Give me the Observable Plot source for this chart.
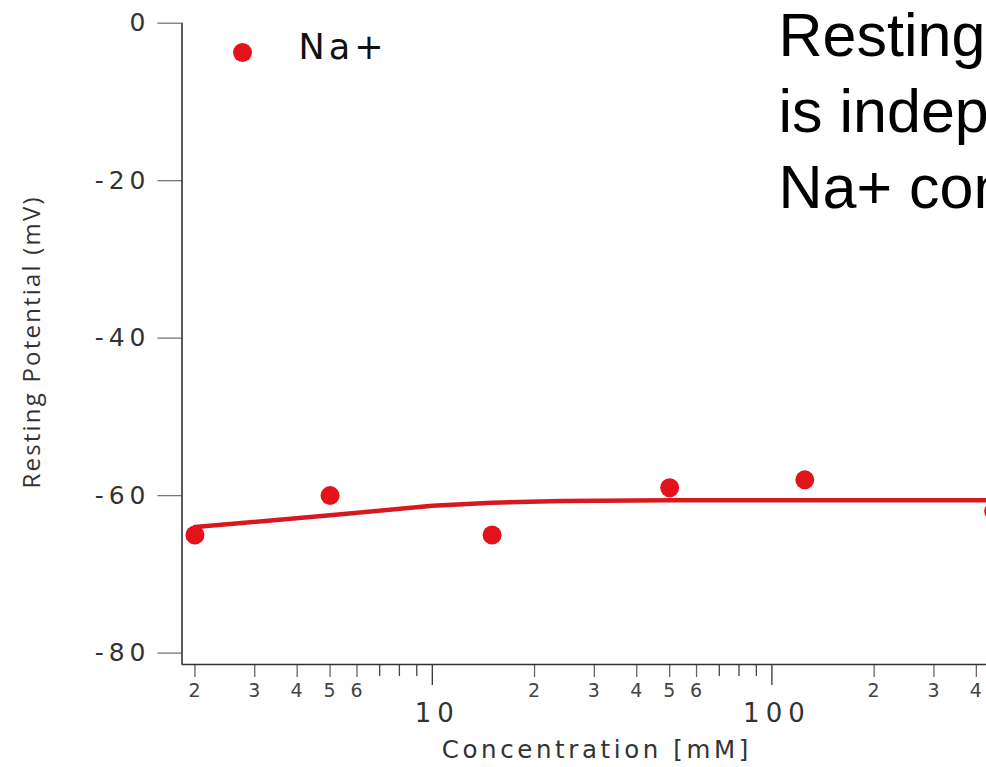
<!DOCTYPE html>
<html>
<head>
<meta charset="utf-8">
<script src="https://cdn.jsdelivr.net/npm/d3@7"></script>
<script src="https://cdn.jsdelivr.net/npm/@observablehq/plot@0.6"></script>
<style>
  html, body { margin: 0; padding: 0; background: #fff; }
  #wrap { width: 986px; height: 767px; overflow: hidden; position: relative; background: #fff; }
  #wrap svg { max-width: none !important; display: block; }
</style>
</head>
<body>
<div id="wrap"></div>
<script>
// Measured data (Na+ concentration in mM vs resting potential in mV)
const concentration = [2, 5, 15, 50, 125, 450];
const restingPotential = [-65, -60, -65, -59, -58, -62];

// Fitted curve
const fitConcentration = [2, 5, 10, 15, 24, 50, 125, 1000];
const fitPotential = [-64, -62.5, -61.3, -60.9, -60.7, -60.6, -60.6, -60.6];

// Axis ticks
const yTicks = [0, -20, -40, -60, -80];
const xMajorTicks = [10, 100, 1000];
const xLabeledMinorTicks = [2, 3, 4, 5, 6, 20, 30, 40, 50, 60, 200, 300, 400, 500, 600];
const xUnlabeledMinorTicks = [7, 8, 9, 70, 80, 90, 700, 800, 900];

// Texts
const seriesName = ["Na+"];
const annotation = ["Resting potential\nis independent of\nNa+ concentration"];
const xLabel = ["Concentration [mM]"];
const yLabel = ["Resting Potential (mV)"];

const points = concentration.map((c, i) => ({c, v: restingPotential[i]}));
const fit = fitConcentration.map((c, i) => ({c, v: fitPotential[i]}));

const red = "#e4131b";
const lineRed = "#d7191f";
const axisFont = "DejaVu Sans, Verdana, sans-serif";

const xMin = 1.832, xMax = 1000;
const yMin = -81.45, yMax = 0;

const leadDigit = d => String(Math.round(d / Math.pow(10, Math.floor(Math.log10(d) + 1e-9))));

const chart = Plot.plot({
  width: 1111,
  height: 767,
  marginLeft: 181.5,
  marginRight: 0,
  marginTop: 22.7,
  marginBottom: 103,
  style: {fontFamily: axisFont, color: "#333", background: "#fff", maxWidth: "none"},
  x: {type: "log", domain: [xMin, xMax]},
  y: {domain: [yMin, yMax]},
  marks: [
    // y axis ticks and labels
    Plot.axisY({ticks: yTicks, tickSize: 24, stroke: "#777", strokeWidth: 1.3, label: null, tickFormat: () => ""}),
    Plot.text(yTicks, {y: d => d, frameAnchor: "left", dx: -31.5, textAnchor: "end", text: d => String(d), fontSize: 25, fill: "#333", fontFamily: axisFont}),
    // x axis ticks
    Plot.axisX({ticks: xMajorTicks, tickSize: 21, stroke: "#333", strokeWidth: 1.3, label: null, tickFormat: () => ""}),
    Plot.axisX({ticks: xLabeledMinorTicks, tickSize: 13, stroke: "#666", strokeWidth: 1.3, label: null, tickFormat: () => ""}),
    Plot.axisX({ticks: xUnlabeledMinorTicks, tickSize: 12, stroke: "#444", strokeWidth: 1.3, label: null, tickFormat: () => ""}),
    // x axis tick labels
    Plot.text(xMajorTicks, {x: d => d, frameAnchor: "bottom", lineAnchor: "middle", dy: 49, dx: 5, text: d => String(d), fontSize: 26, fill: "#333", fontFamily: axisFont}),
    Plot.text(xLabeledMinorTicks, {x: d => d, frameAnchor: "bottom", lineAnchor: "middle", dy: 26, text: leadDigit, fontSize: 19, fill: "#444", fontFamily: axisFont}),
    // axis lines
    Plot.ruleX([xMin], {stroke: "#333", strokeWidth: 1.6}),
    Plot.ruleY([yMin], {stroke: "#333", strokeWidth: 1.6}),
    // axis titles
    Plot.text(xLabel, {x: 30.5, frameAnchor: "bottom", lineAnchor: "middle", dy: 86, text: d => d, fontSize: 24.5, fill: "#333", fontFamily: axisFont}),
    Plot.text(yLabel, {frameAnchor: "left", dx: -149.5, dy: -2, rotate: -90, textAnchor: "middle", lineAnchor: "middle", text: d => d, fontSize: 24, fill: "#333", fontFamily: "Open Sans, sans-serif"}),
    // fitted line
    Plot.line(fit, {x: "c", y: "v", stroke: lineRed, strokeWidth: 4.5, curve: "linear"}),
    // data points
    Plot.dot(points, {x: "c", y: "v", r: 9.5, fill: red, stroke: "none"}),
    // legend
    Plot.dot(seriesName, {frameAnchor: "top-left", dx: 60.5, dy: 29.3, r: 9.5, fill: red, stroke: "none"}),
    Plot.text(seriesName, {frameAnchor: "top-left", dx: 116.5, dy: 24.5, text: d => d, textAnchor: "start", lineAnchor: "middle", fontSize: 35, fill: "#111", fontFamily: axisFont}),
    // annotation
    Plot.text(annotation, {frameAnchor: "top-left", dx: 596.5, dy: -21.7, text: d => d, textAnchor: "start", lineAnchor: "top", lineHeight: 1.25, fontSize: 61, fill: "#000", fontFamily: "Liberation Sans, Arial, Helvetica, sans-serif"})
  ]
});

// letter spacing to match the reference's tracked-out lettering
const spacing = {"25": "5px", "26": "6px", "19": "1px", "24.5": "3.6px", "24": "2.2px", "35": "4px"};
d3.select(chart).selectAll("g").each(function () {
  const fs = this.getAttribute("font-size");
  if (fs && spacing[fs]) this.style.letterSpacing = spacing[fs];
});

document.getElementById("wrap").appendChild(chart);
</script>
</body>
</html>
